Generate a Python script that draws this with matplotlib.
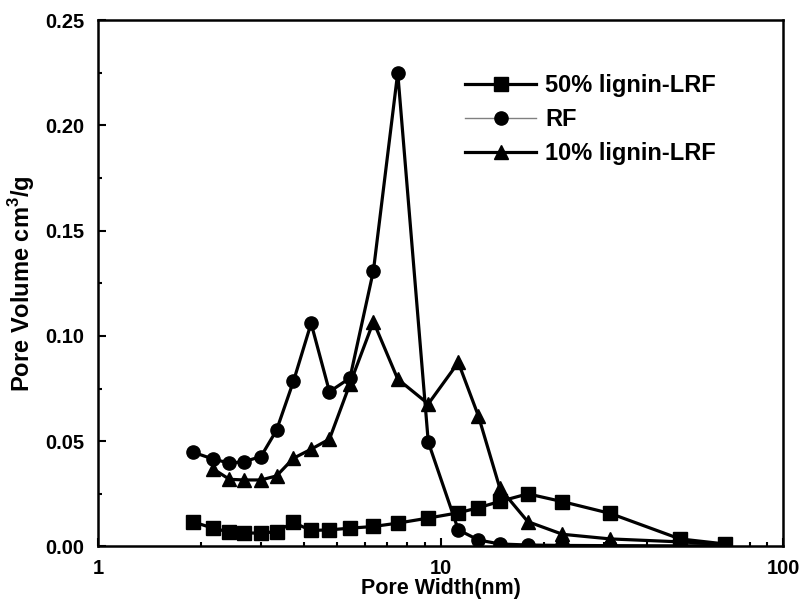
import matplotlib.pyplot as plt
from matplotlib.lines import Line2D

plt.rcParams['font.family'] = ['Liberation Sans', 'DejaVu Sans']
plt.rcParams['font.weight'] = 'bold'
plt.rcParams['mathtext.fontset'] = 'custom'
plt.rcParams['mathtext.bf'] = 'Liberation Sans:bold'
plt.rcParams['mathtext.rm'] = 'Liberation Sans:bold'

# pore width grid (nm)
width = [1.90, 2.17, 2.42, 2.67, 2.99, 3.32, 3.72, 4.19, 4.74, 5.44, 6.37,
         7.50, 9.21, 11.27, 12.9, 14.9, 17.98, 22.7, 31.3, 50.0, 67.7]

lrf50 = [0.0116, 0.0087, 0.0068, 0.0065, 0.0063, 0.0071, 0.0114, 0.0076,
         0.0079, 0.0087, 0.0095, 0.0111, 0.0135, 0.0160, 0.0184, 0.0214,
         0.0250, 0.0213, 0.0157, 0.0036, 0.0012]

rf = [0.0447, 0.0415, 0.0396, 0.0403, 0.0427, 0.0552, 0.0784, 0.1060,
      0.0735, 0.0800, 0.1310, 0.2250, 0.0496, 0.0079, 0.0031, 0.0012,
      0.0007, 0.0005, 0.0004, 0.0003, 0.0005]

width10 = width[1:]
lrf10 = [0.0368, 0.0319, 0.0316, 0.0316, 0.0335, 0.0419, 0.0462, 0.0510,
         0.0772, 0.1068, 0.0795, 0.0677, 0.0874, 0.0620, 0.0277, 0.0118,
         0.0058, 0.0036, 0.0022, 0.0011]

fig = plt.figure(figsize=(8.06, 6.03), dpi=100)
ax = fig.add_axes([0.1216, 0.0937, 0.8499, 0.8731])

kw = dict(color='black', lw=2.3, ms=9.5)
ax.plot(width, lrf50, marker='s', **kw)
ax.plot(width, rf, marker='o', **kw)
ax.plot(width10, lrf10, marker='^', **kw)

ax.set_xscale('log')
ax.set_xlim(1, 100)
ax.set_ylim(0, 0.25)
ax.set_xticks([1, 10, 100])
ax.set_xticklabels(['1', '10', '100'])
ax.set_yticks([0, 0.05, 0.10, 0.15, 0.20, 0.25])
ax.set_yticklabels(['0.00', '0.05', '0.10', '0.15', '0.20', '0.25'])
ax.set_yticks([0.025, 0.075, 0.125, 0.175, 0.225], minor=True)
ax.tick_params(which='both', direction='in', width=1.5, labelsize=14.5)
ax.tick_params(which='major', length=6)
ax.tick_params(which='minor', length=3)
ax.tick_params(axis='x', pad=9)
ax.tick_params(axis='y', pad=10)
for s in ax.spines.values():
    s.set_linewidth(1.8)

ax.set_xlabel('Pore Width(nm)', fontsize=15.5, fontweight='bold', labelpad=0)
ax.set_ylabel(r'Pore Volume cm$^{\mathbf{3}}$/g', fontsize=17, fontweight='bold', labelpad=6)

handles = [
    Line2D([], [], color='black', lw=2.3, marker='s', ms=9.5),
    Line2D([], [], color='gray', lw=1.0, marker='o', mfc='black', mec='black', ms=9.5),
    Line2D([], [], color='black', lw=2.3, marker='^', ms=9.5),
]
ax.legend(handles, ['50% lignin-LRF', 'RF', '10% lignin-LRF'],
          loc='upper left', bbox_to_anchor=(0.536, 0.897), frameon=False,
          borderpad=0, borderaxespad=0,
          fontsize=17, handlelength=3.0, labelspacing=0.46, handletextpad=0.4)

fig.savefig('out.png', dpi=100)
